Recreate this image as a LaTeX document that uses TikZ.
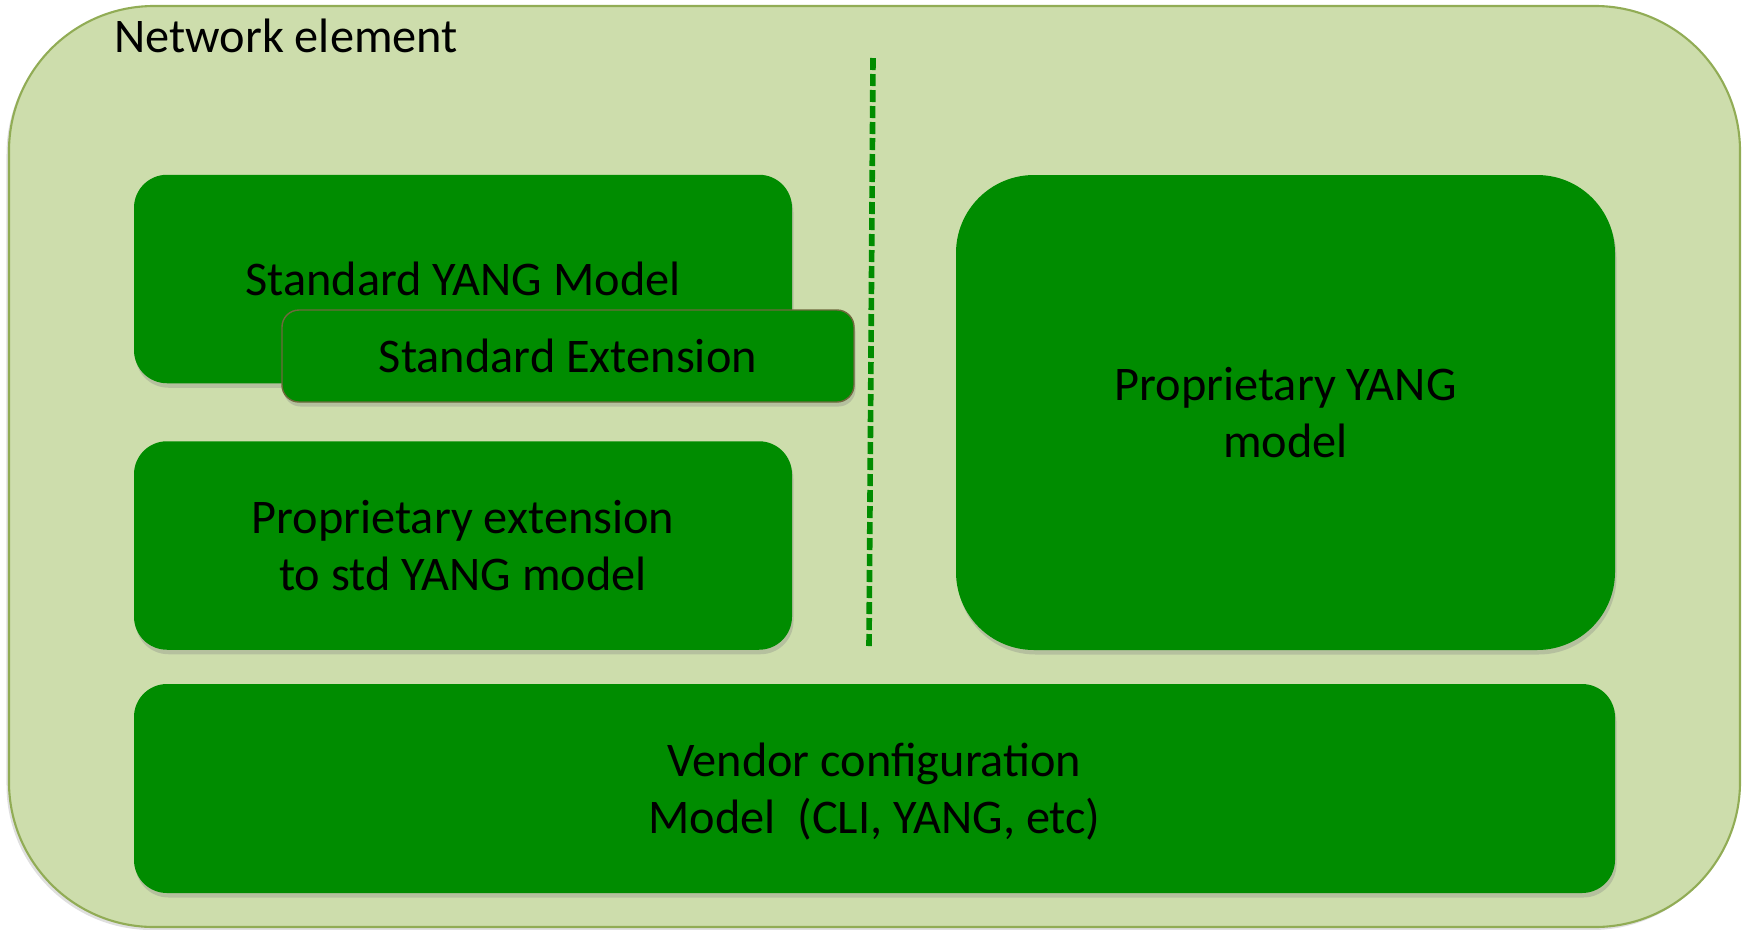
\documentclass[tikz,border=0pt]{standalone}
\usepackage{fontspec}
\setmainfont{Carlito}
\usetikzlibrary{shadows}
\definecolor{nebg}{RGB}{205,221,172}
\definecolor{neline}{RGB}{145,172,85}
\definecolor{yanggreen}{RGB}{0,140,0}
\definecolor{extline}{RGB}{110,105,60}

\begin{document}
\begin{tikzpicture}[
    nodes={inner sep=0pt, align=center, font=\fontsize{27.5}{32.5}\selectfont},
    element/.style={%
        draw=neline, line width=1.2pt, fill=nebg,
        rounded corners=2.9cm,
        minimum width=34.62cm, minimum height=18.42cm,
        drop shadow={shadow xshift=-0.05cm, shadow yshift=-0.06cm, opacity=0.25}},
    model/.style={%
        fill=yanggreen, rounded corners=0.66cm,
        minimum width=13.16cm, minimum height=4.17cm,
        text depth=-0.32cm,
        drop shadow={shadow xshift=0.03cm, shadow yshift=-0.09cm, opacity=0.3}},
    extension/.style={%
        model, draw=extline, line width=0.8pt,
        rounded corners=0.34cm,
        minimum width=11.44cm, minimum height=1.84cm},
    separator/.style={%
        draw=yanggreen, line width=3.2pt, dash pattern=on 0.24cm off 0.08cm},
]
    \useasboundingbox (0,0) rectangle (35,-18.58);
     %Network element
    \node[element] (ne) at (17.49,-9.33) {};
    \node[anchor=base west] (netitle) at (2.28,-1.04) {Network element};
     %Standard models
    \node[model] (stdyang) at (9.26,-5.58) {Standard YANG Model};
    \node[extension] (stdext) at (11.36,-7.12) {Standard Extension};
    \node[model] (propext) at (9.26,-10.91) {Proprietary extension\\to std YANG model};
     %Proprietary model
    \node[model, rounded corners=1.56cm,
        minimum width=13.18cm, minimum height=9.5cm
    ] (propyang) at (25.71,-8.25) {Proprietary YANG\\model};
     %Vendor configuration
    \node[model, minimum width=29.62cm, minimum height=4.18cm]
        (vendor) at (17.49,-15.77) {Vendor configuration\\Model~ (CLI, YANG, etc)};
     %Separator
    \coordinate (septop) at (17.46,-1.16);
    \coordinate (sepbot) at (17.38,-12.96);
    \draw[separator] (septop) -- (sepbot);
\end{tikzpicture}
\end{document}
